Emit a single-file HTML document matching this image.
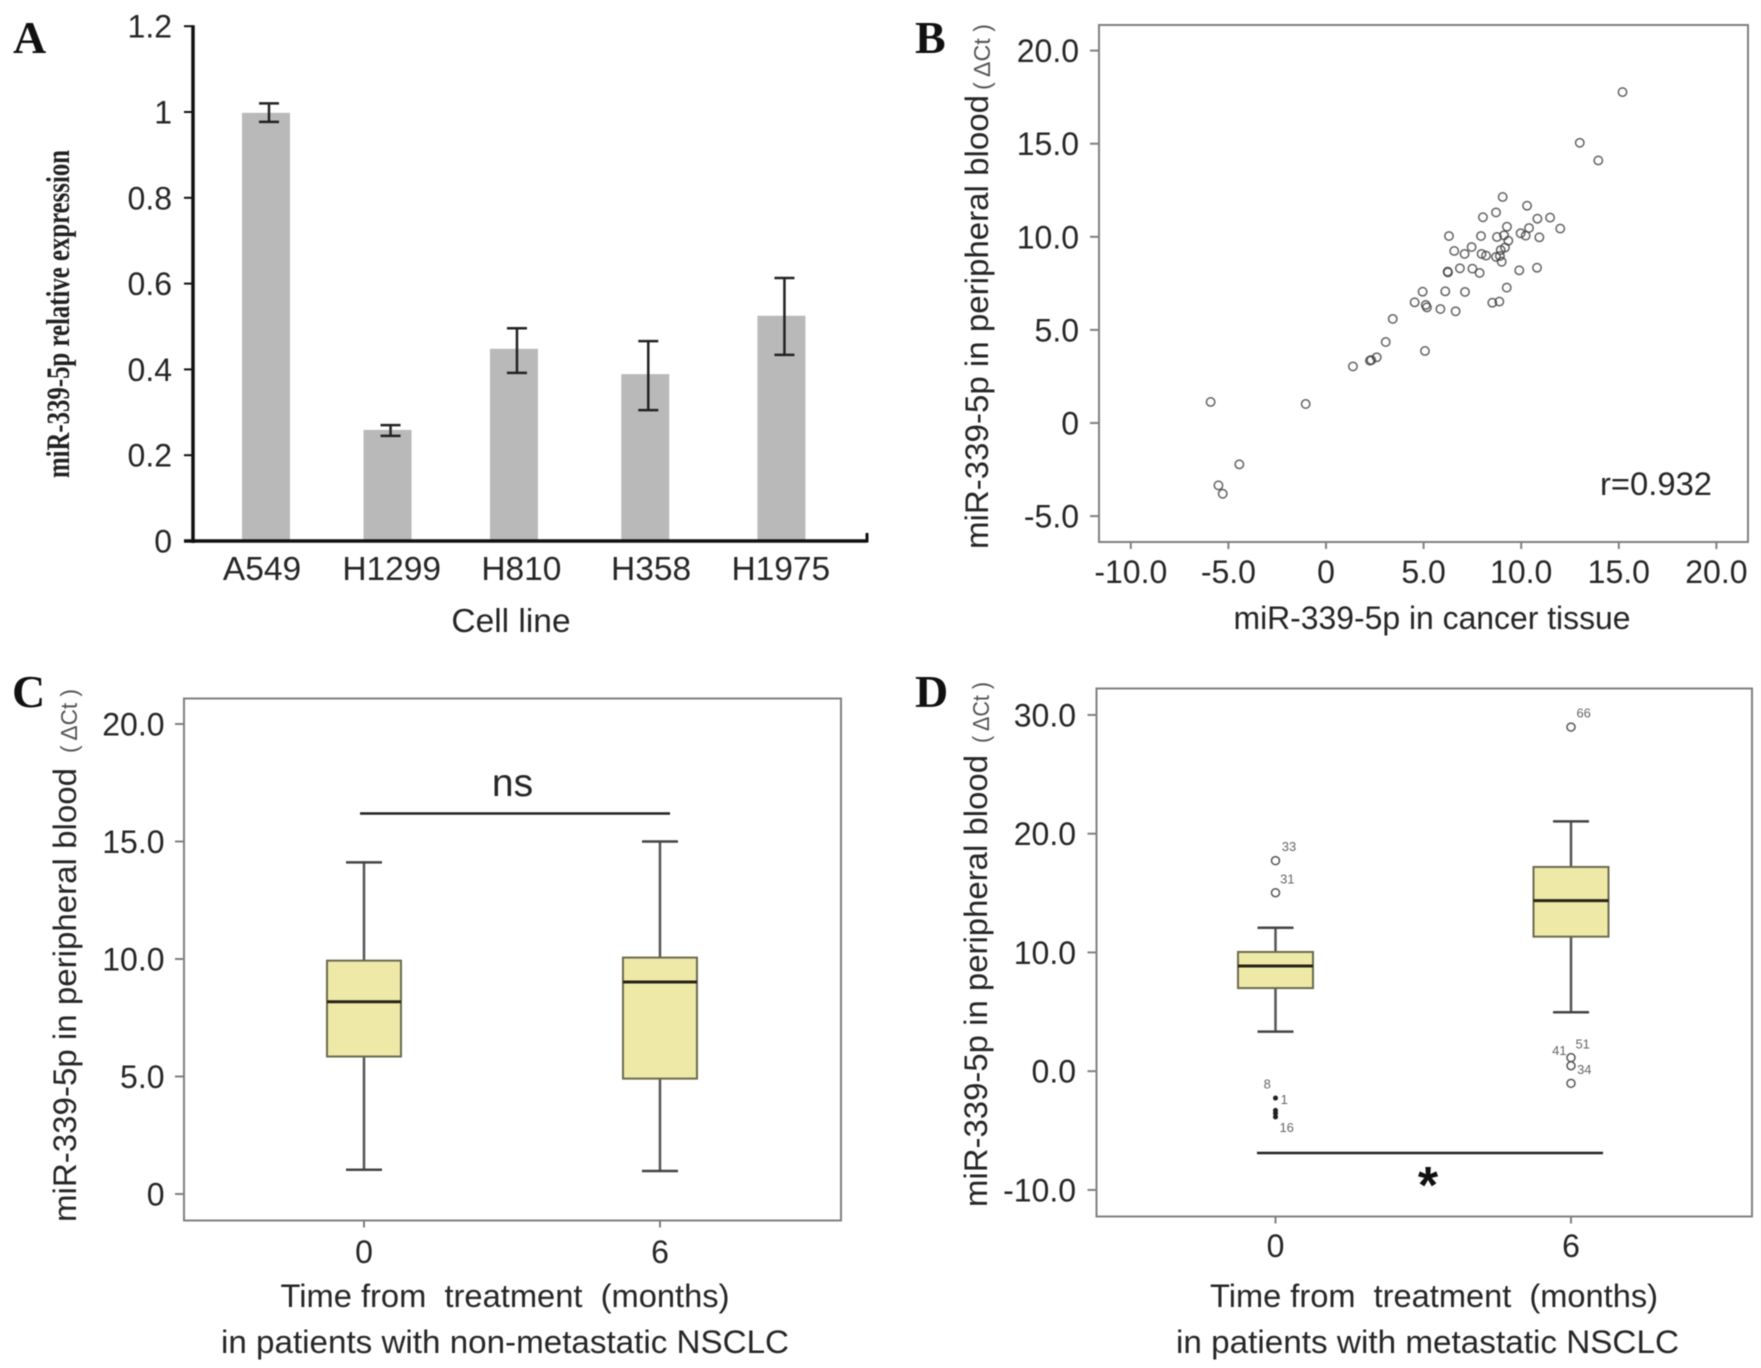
<!DOCTYPE html>
<html lang="en">
<head>
<meta charset="utf-8">
<title>miR-339-5p expression figure</title>
<style>
html,body{margin:0;padding:0;background:#fff;}
svg{display:block;filter:blur(0.6px);}
text{font-family:"Liberation Sans",sans-serif;fill:#262626;}
.tick{font-size:32px;}
.cat{font-size:33.5px;}
.lab{font-size:32px;white-space:pre;}
.small{font-size:23px;fill:#555;white-space:pre;}
.letter{font-family:"Liberation Serif",serif;font-weight:bold;font-size:46px;fill:#111;}
.oid{font-size:13px;fill:#666;}
</style>
</head>
<body>
<svg id="figure" xmlns="http://www.w3.org/2000/svg" width="1761" height="1368" viewBox="0 0 1761 1368">
  <rect x="0" y="0" width="1761" height="1368" fill="#ffffff"/>

  <g id="panelA">
    <text class="letter" x="13" y="53">A</text>
    <text transform="translate(69,478) rotate(-90)" style="font-family:'Liberation Serif',serif;font-weight:bold;font-size:33px;fill:#222" textLength="328" lengthAdjust="spacingAndGlyphs">miR-339-5p relative expression</text>
    <text class="lab" x="511" y="632" text-anchor="middle" style="font-size:33.5px">Cell line</text>
  </g>

  <g id="panelB">
    <text class="letter" x="915" y="53">B</text>
    <rect x="1099" y="25" width="649" height="517" fill="none" stroke="#808080" stroke-width="2"/>
    <text class="lab" transform="translate(988,549) rotate(-90)" textLength="454" lengthAdjust="spacingAndGlyphs">miR-339-5p in peripheral blood</text>
    <text class="small" transform="translate(990,90) rotate(-90)" textLength="66" lengthAdjust="spacingAndGlyphs">( ΔCt )</text>
    <text class="lab" x="1432" y="629" text-anchor="middle" textLength="397" lengthAdjust="spacingAndGlyphs">miR-339-5p in cancer tissue</text>
    <text class="tick" x="1600" y="495" textLength="112" lengthAdjust="spacingAndGlyphs">r=0.932</text>
  </g>

  <g id="panelC">
    <text class="letter" x="12" y="707">C</text>
    <rect x="184" y="698.5" width="657" height="522" fill="none" stroke="#808080" stroke-width="2"/>
    <text class="lab" transform="translate(76,1222) rotate(-90)" textLength="454" lengthAdjust="spacingAndGlyphs">miR-339-5p in peripheral blood</text>
    <text class="small" transform="translate(77,753) rotate(-90)" textLength="64" lengthAdjust="spacingAndGlyphs">( ΔCt )</text>
    <text class="lab" x="505" y="1307" text-anchor="middle" textLength="449" lengthAdjust="spacingAndGlyphs">Time from  treatment  (months)</text>
    <text class="lab" x="505" y="1353" text-anchor="middle" textLength="568" lengthAdjust="spacingAndGlyphs">in patients with non-metastatic NSCLC</text>
    <text x="512.5" y="796" text-anchor="middle" style="font-size:39px">ns</text>
    <line x1="360" y1="813.5" x2="670" y2="813.5" stroke="#222" stroke-width="2.5"/>
  </g>

  <g id="panelD">
    <text class="letter" x="915" y="707">D</text>
    <rect x="1096.5" y="688.5" width="655.5" height="528" fill="none" stroke="#808080" stroke-width="2"/>
    <text class="lab" transform="translate(987,1207) rotate(-90)" textLength="452" lengthAdjust="spacingAndGlyphs">miR-339-5p in peripheral blood</text>
    <text class="small" transform="translate(989,743) rotate(-90)" textLength="61" lengthAdjust="spacingAndGlyphs">( ΔCt )</text>
    <text class="lab" x="1434" y="1307" text-anchor="middle" textLength="448" lengthAdjust="spacingAndGlyphs">Time from  treatment  (months)</text>
    <text class="lab" x="1427.5" y="1353" text-anchor="middle" textLength="503" lengthAdjust="spacingAndGlyphs">in patients with metastatic NSCLC</text>
    <line x1="1257" y1="1153" x2="1603" y2="1153" stroke="#222" stroke-width="2.5"/>
    <text x="1428" y="1203" text-anchor="middle" style="font-size:52px;font-weight:bold;fill:#111">*</text>
  </g>
</svg>

<script>
// ---------- Panel A data ----------
const aCategories = ['A549', 'H1299', 'H810', 'H358', 'H1975'];
const aValues = [0.998, 0.259, 0.448, 0.389, 0.525];
const aErrHigh = [1.02, 0.27, 0.496, 0.466, 0.613];
const aErrLow = [0.977, 0.245, 0.392, 0.305, 0.434];
const aTickValues = [0, 0.2, 0.4, 0.6, 0.8, 1, 1.2];
const aTickLabels = ['0', '0.2', '0.4', '0.6', '0.8', '1', '1.2'];

// ---------- Panel B data ----------
const bTissue = [9.05,10.30,8.04,8.71,10.83,11.48,12.0,9.27,10.40,9.97,10.23,6.30,7.94,8.76,9.12,9.34,10.93,7.46,6.57,7.10,7.97,8.20,8.71,9.17,8.95,8.91,9.0,6.25,6.23,6.86,7.50,7.87,9.90,10.81,9.26,4.95,6.11,7.12,4.54,5.11,5.17,5.86,6.64,8.52,8.88,3.42,3.06,5.07,1.38,2.25,2.32,2.60,15.19,13.0,13.95,-5.91,-1.04,-4.44,-5.51,-5.29];
const bBlood = [12.14,11.67,11.05,11.31,10.97,11.03,10.44,10.54,10.47,10.19,10.06,10.04,10.04,9.99,10.08,9.79,9.97,9.45,9.24,9.08,9.08,8.99,8.92,9.42,9.29,8.97,8.66,8.09,8.13,8.31,8.29,8.06,8.20,8.34,7.27,7.05,7.07,7.04,6.48,6.34,6.21,6.12,6.00,6.46,6.52,5.59,4.35,3.87,3.04,3.35,3.38,3.53,17.77,15.05,14.1,1.13,1.02,-2.22,-3.35,-3.8];
const bXTickValues = [-10, -5, 0, 5, 10, 15, 20];
const bXTickLabels = ['-10.0', '-5.0', '0', '5.0', '10.0', '15.0', '20.0'];
const bYTickValues = [-5, 0, 5, 10, 15, 20];
const bYTickLabels = ['-5.0', '0', '5.0', '10.0', '15.0', '20.0'];

// ---------- Panel C data ----------
const cMonths = [0, 6];
const cMonthLabels = ['0', '6'];
const cWhiskerLow = [1.03, 0.98];
const cQ1 = [5.85, 4.91];
const cMedian = [8.18, 9.02];
const cQ3 = [9.93, 10.06];
const cWhiskerHigh = [14.11, 15.0];
const cYTickValues = [0, 5, 10, 15, 20];
const cYTickLabels = ['0', '5.0', '10.0', '15.0', '20.0'];

// ---------- Panel D data ----------
const dMonths = [0, 6];
const dMonthLabels = ['0', '6'];
const dWhiskerLow = [3.33, 4.96];
const dQ1 = [7.0, 11.33];
const dMedian = [8.86, 14.36];
const dQ3 = [10.04, 17.2];
const dWhiskerHigh = [12.08, 21.04];
const dYTickValues = [-10, 0, 10, 20, 30];
const dYTickLabels = ['-10.0', '0.0', '10.0', '20.0', '30.0'];
const dOutlierMonth = [0, 0, 0, 0, 0, 0, 6, 6, 6, 6];
const dOutlierValue = [17.73, 15.03, -2.26, -3.3, -3.55, -3.85, 28.98, 1.14, 0.46, -1.02];
const dOutlierId = ['33', '31', '1', '8', '', '16', '66', '51', '34', ''];

// ---------- Axis functions ----------
const xA = i => 266 + 119.1 * i + 2.44 * i * i;
const xALabel = i => 262 + 129.7 * i;
const yA = v => 541 - 429 * v;
const xB = v => 1326 + 19.52 * v;
const yB = v => 423 - 18.62 * v;
const xC = m => 364 + 49.33 * m;
const yC = v => 1194 - 23.5 * v;
const xD = m => 1275.5 + 49.25 * m;
const yD = v => 1071.2 - 11.875 * v;

const SVGNS = 'http://www.w3.org/2000/svg';
function make(tag, attrs, parent) {
  const el = document.createElementNS(SVGNS, tag);
  for (const k in attrs) el.setAttribute(k, attrs[k]);
  parent.appendChild(el);
  return el;
}
function drawLine(parent, x1, y1, x2, y2, stroke, width) {
  return make('line', { x1, y1, x2, y2, stroke, 'stroke-width': width }, parent);
}
function drawText(parent, cls, x, y, anchor, str) {
  const t = make('text', { class: cls, x, y, 'text-anchor': anchor }, parent);
  t.textContent = str;
  return t;
}
function yTicks(parent, values, labels, yFn, axisX, len, labelRight, stroke) {
  values.forEach((v, i) => {
    const tk = drawLine(parent, axisX - len, yFn(v), axisX, yFn(v), stroke, 2);
    
    
    const lb = drawText(parent, 'tick', labelRight, yFn(v) + 11.5, 'end', labels[i]);
    
    
  });
}
function xTicks(parent, values, labels, xFn, axisY, len, labelY, stroke) {
  values.forEach((v, i) => {
    const tk = drawLine(parent, xFn(v), axisY, xFn(v), axisY + len, stroke, 2);
    
    
    const lb = drawText(parent, 'tick', xFn(v), labelY, 'middle', labels[i]);
    
    
  });
}
function drawBoxes(parent, months, lows, q1s, meds, q3s, highs, xFn, yFn, boxHalf, capHalf) {
  months.forEach((m, i) => {
    const cx = xFn(m);
    const stem = drawLine(parent, cx, yFn(highs[i]), cx, yFn(lows[i]), '#555', 2.5);
    
    
    const capHi = drawLine(parent, cx - capHalf, yFn(highs[i]), cx + capHalf, yFn(highs[i]), '#444', 2.5);
    
    
    const capLo = drawLine(parent, cx - capHalf, yFn(lows[i]), cx + capHalf, yFn(lows[i]), '#444', 2.5);
    
    
    const box = make('rect', { x: cx - boxHalf, y: yFn(q3s[i]), width: 2 * boxHalf, height: yFn(q1s[i]) - yFn(q3s[i]), fill: '#efe9a8', stroke: '#6b6b50', 'stroke-width': 2 }, parent);
    
    
    const med = drawLine(parent, cx - boxHalf, yFn(meds[i]), cx + boxHalf, yFn(meds[i]), '#2a2416', 3);
    
    
  });
}

// ---------- Panel A ----------
const gA = document.getElementById('panelA');
aValues.forEach((v, i) => {
  const cx = xA(i);
  const bar = make('rect', { x: cx - 24, y: yA(v), width: 48, height: yA(0) - yA(v), fill: '#b9b9b9' }, gA);
  
  
  const ex = cx + 3;
  const stem = drawLine(gA, ex, yA(aErrHigh[i]), ex, yA(aErrLow[i]), '#222', 2.5);
  
  
  const top = drawLine(gA, ex - 10, yA(aErrHigh[i]), ex + 10, yA(aErrHigh[i]), '#222', 2.5);
  
  
  const bot = drawLine(gA, ex - 10, yA(aErrLow[i]), ex + 10, yA(aErrLow[i]), '#222', 2.5);
  
  
  const lb = drawText(gA, 'cat', xALabel(i), 580, 'middle', aCategories[i]);
  
  
});
const aYAxis = drawLine(gA, 193, yA(1.2) - 1, 193, yA(0) + 2, '#111', 3.5);


const aXAxis = drawLine(gA, 184, yA(0), 867, yA(0), '#111', 3.5);


const aXEnd = drawLine(gA, 867, yA(0) - 8, 867, yA(0) + 1.5, '#111', 3);


yTicks(gA, aTickValues, aTickLabels, yA, 193, 9, 172, '#111');

// ---------- Panel B ----------
const gB = document.getElementById('panelB');
yTicks(gB, bYTickValues, bYTickLabels, yB, 1099, 9, 1079, '#808080');
xTicks(gB, bXTickValues, bXTickLabels, xB, 542, 7, 583, '#808080');
bTissue.forEach((v, i) => {
  const pt = make('circle', { cx: xB(v), cy: yB(bBlood[i]), r: 4.2, fill: 'none', stroke: '#3c3c3c', 'stroke-opacity': 0.8, 'stroke-width': 1.5 }, gB);
  
  
});

// ---------- Panel C ----------
const gC = document.getElementById('panelC');
yTicks(gC, cYTickValues, cYTickLabels, yC, 184, 9, 164.5, '#808080');
xTicks(gC, cMonths, cMonthLabels, xC, 1220.5, 7, 1263, '#808080');
drawBoxes(gC, cMonths, cWhiskerLow, cQ1, cMedian, cQ3, cWhiskerHigh, xC, yC, 37, 18);

// ---------- Panel D ----------
const gD = document.getElementById('panelD');
yTicks(gD, dYTickValues, dYTickLabels, yD, 1096.5, 9, 1076, '#808080');
xTicks(gD, dMonths, dMonthLabels, xD, 1216.5, 7, 1257, '#808080');
drawBoxes(gD, dMonths, dWhiskerLow, dQ1, dMedian, dQ3, dWhiskerHigh, xD, yD, 37.5, 18);
dOutlierValue.forEach((v, i) => {
  const lowGroup = dOutlierMonth[i] === 0 && v < 0;
  const pt = make('circle', { cx: xD(dOutlierMonth[i]), cy: yD(v), r: lowGroup ? 1.8 : 4, fill: lowGroup ? '#222' : 'none', stroke: lowGroup ? '#222' : '#555', 'stroke-width': 1.5 }, gD);
  
  
});
const dIdOffsets = { '33': [13.5, -9.5], '31': [11.8, -9], '1': [8.8, 6], '8': [-8.2, -22], '16': [11.2, 15], '66': [12.7, -9.5], '51': [11.7, -9], '34': [13.3, 8.5] };
dOutlierId.forEach((id, i) => {
  if (!id) return;
  const off = dIdOffsets[id];
  const lb = drawText(gD, 'oid', xD(dOutlierMonth[i]) + off[0], yD(dOutlierValue[i]) + off[1], 'middle', id);
  
  
});
const dId41 = drawText(gD, 'oid', xD(6) - 11.7, yD(0.46) - 10.5, 'middle', '41');


</script>
</body>
</html>
